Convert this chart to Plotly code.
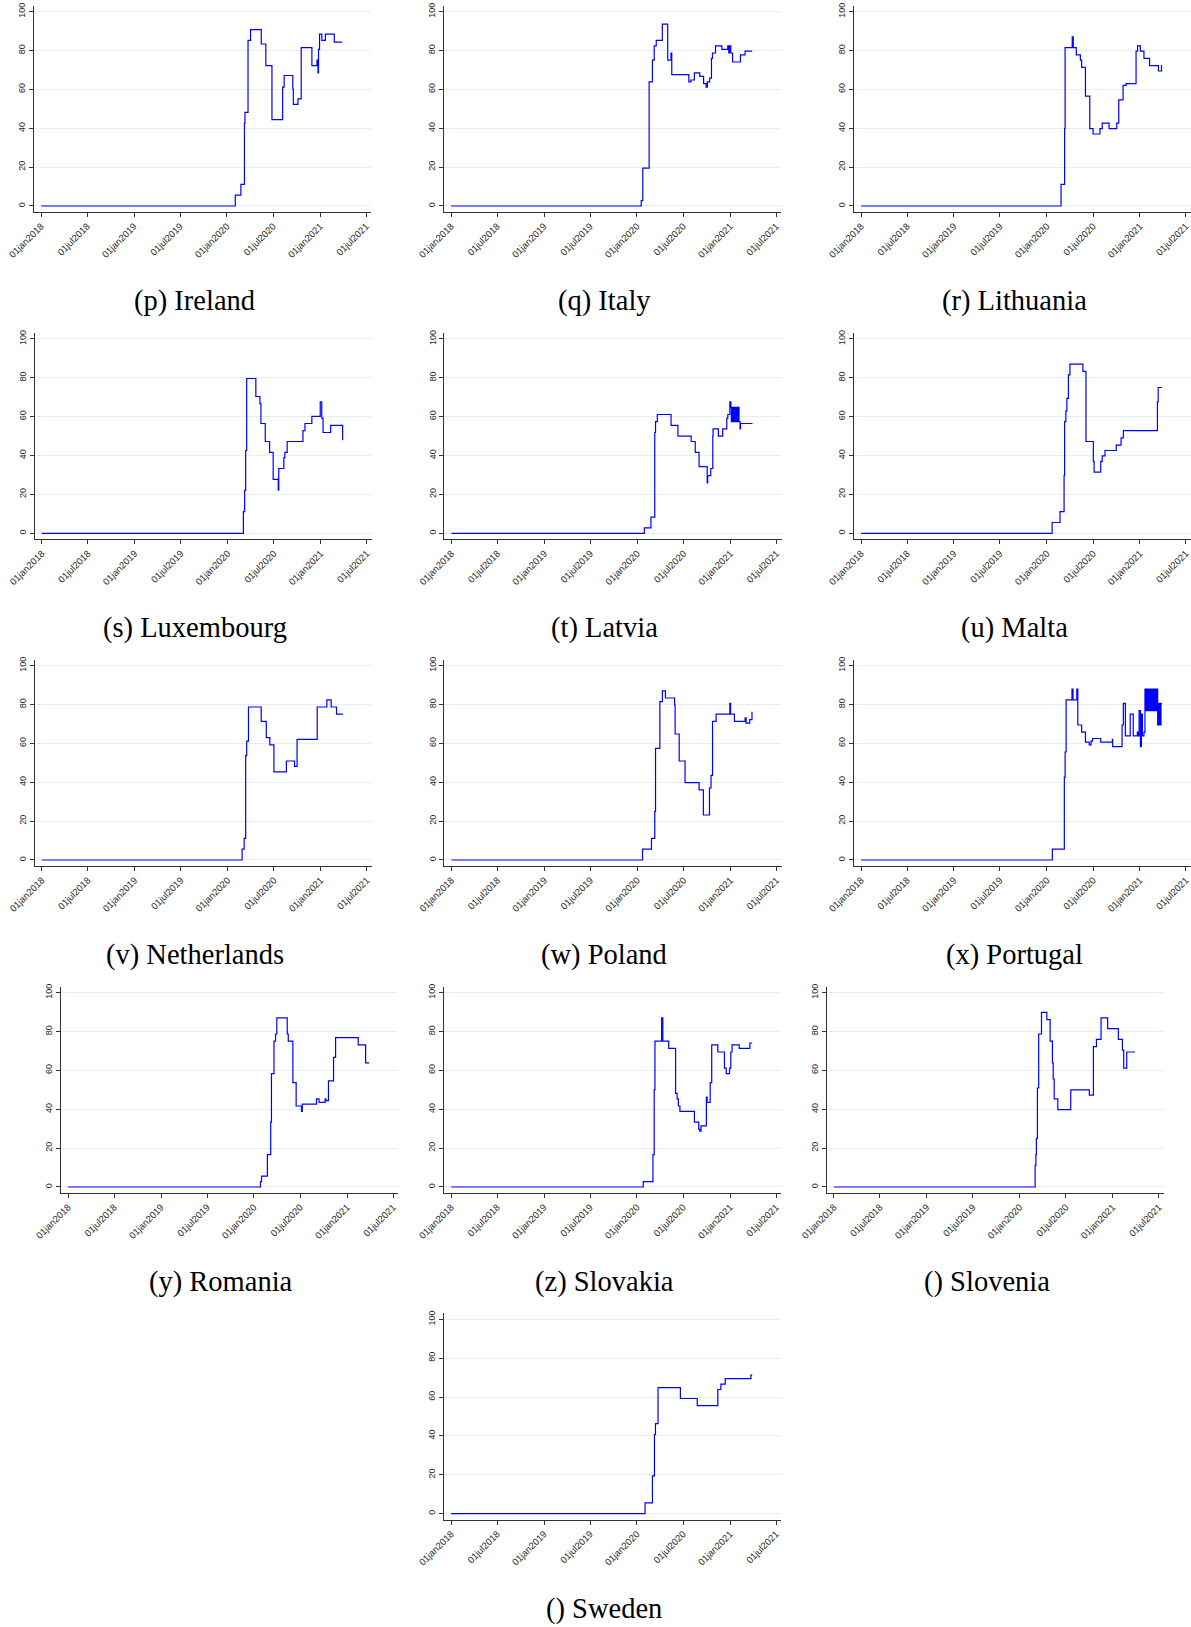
import plotly.graph_objects as go

W, H = 1191, 1627

# Shared axes
X_RANGE = ["2017-12-04", "2021-07-21"]
X_TICKS = ["2018-01-01", "2018-07-01", "2019-01-01", "2019-07-01",
           "2020-01-01", "2020-07-01", "2021-01-01", "2021-07-01"]
X_TICK_TEXT = ["01jan2018", "01jul2018", "01jan2019", "01jul2019",
               "01jan2020", "01jul2020", "01jan2021", "01jul2021"]
Y_TICKS = [0, 20, 40, 60, 80, 100]
Y_RANGE = [-3.1, 103]

# Stringency index step series: change dates and the value from that date on
ireland_dates = ["2018-01-01", "2020-02-03", "2020-02-25", "2020-03-10", "2020-03-12", "2020-03-24",
                 "2020-04-03", "2020-05-15", "2020-06-02", "2020-06-26", "2020-08-07", "2020-08-13",
                 "2020-09-16", "2020-09-18", "2020-10-06", "2020-10-19", "2020-11-30", "2020-12-20",
                 "2020-12-24", "2020-12-26", "2020-12-30", "2021-01-08", "2021-01-22", "2021-02-26",
                 "2021-03-29"]
ireland_values = [0, 5.56, 11.11, 42.59, 48.15, 85.19, 90.74, 83.33, 72.22, 44.44, 61.11, 67.13,
                  60.19, 52.31, 55.09, 81.48, 72.22, 75.0, 68.52, 80.56, 88.43, 85.19, 88.43, 84.26,
                  84.26]

italy_dates = ["2018-01-01", "2020-01-18", "2020-01-24", "2020-02-18", "2020-03-02", "2020-03-09",
               "2020-03-17", "2020-04-10", "2020-05-01", "2020-05-14", "2020-05-17", "2020-07-23",
               "2020-07-31", "2020-08-14", "2020-09-04", "2020-09-19", "2020-09-29", "2020-10-04",
               "2020-10-13", "2020-10-20", "2020-10-24", "2020-11-05", "2020-11-30", "2020-12-23",
               "2020-12-27", "2020-12-30", "2021-01-04", "2021-01-11", "2021-02-11", "2021-03-01",
               "2021-03-29"]
italy_values = [0, 2.78, 19.44, 63.89, 75.0, 82.41, 85.19, 93.52, 75.0, 78.7, 67.59, 63.89,
                64.81, 68.52, 66.67, 62.96, 61.11, 63.89, 65.74, 75.93, 78.7, 82.41, 80.56, 82.41,
                78.7, 82.41, 78.7, 74.07, 77.78, 79.63, 79.63]

lithuania_dates = ["2018-01-01", "2020-02-26", "2020-03-11", "2020-03-13", "2020-04-10", "2020-04-14",
                   "2020-04-26", "2020-05-12", "2020-05-17", "2020-06-01", "2020-06-18", "2020-07-01",
                   "2020-07-28", "2020-08-06", "2020-09-02", "2020-10-02", "2020-10-10", "2020-10-27",
                   "2020-11-08", "2020-12-17", "2020-12-23", "2021-01-03", "2021-01-17", "2021-02-08",
                   "2021-03-15", "2021-03-27", "2021-03-29"]
lithuania_values = [0, 11.11, 39.81, 81.48, 87.04, 81.48, 77.78, 75.0, 71.3, 56.48, 39.81, 37.04,
                    39.81, 42.59, 39.81, 42.59, 54.63, 62.04, 62.96, 79.63, 82.41, 79.63, 75.93, 72.22,
                    69.44, 72.22, 72.22]

luxembourg_dates = ["2018-01-01", "2020-03-03", "2020-03-08", "2020-03-12", "2020-03-16", "2020-04-21",
                    "2020-05-07", "2020-05-11", "2020-05-28", "2020-06-14", "2020-06-28", "2020-07-18",
                    "2020-07-20", "2020-08-09", "2020-08-13", "2020-08-22", "2020-10-23", "2020-10-31",
                    "2020-11-27", "2020-12-30", "2021-01-05", "2021-01-10", "2021-02-09", "2021-03-28",
                    "2021-03-29"]
luxembourg_values = [0, 11.11, 22.22, 42.59, 79.63, 70.37, 66.67, 56.48, 47.22, 41.67, 27.78, 22.22,
                     33.33, 38.89, 41.67, 47.22, 52.78, 56.48, 60.19, 67.59, 59.26, 51.85, 55.56, 48.15,
                     48.15]

latvia_dates = ["2018-01-01", "2020-01-29", "2020-02-24", "2020-03-10", "2020-03-13", "2020-03-20",
                "2020-05-13", "2020-06-09", "2020-07-31", "2020-08-16", "2020-08-31", "2020-10-02",
                "2020-10-04", "2020-10-16", "2020-10-24", "2020-10-25", "2020-11-15", "2020-12-02",
                "2020-12-18", "2020-12-22", "2020-12-30", "2021-01-03",
                "2021-01-05", "2021-01-08", "2021-01-11", "2021-01-14", "2021-01-17", "2021-01-20",
                "2021-01-23", "2021-01-26", "2021-01-29", "2021-02-01", "2021-02-04",
                "2021-02-08", "2021-02-10", "2021-03-29"]
latvia_values = [0, 2.78, 8.33, 51.85, 57.41, 61.11, 55.56, 50.0, 47.22, 41.67, 34.26, 25.93,
                 29.63, 33.33, 50.0, 53.7, 50.0, 53.7, 59.26, 61.11, 67.59, 64.81,
                 57.41, 64.81, 57.41, 64.81, 57.41, 64.81, 57.41, 64.81, 57.41, 64.81, 57.41,
                 53.7, 56.48, 56.48]

malta_dates = ["2018-01-01", "2020-01-22", "2020-02-22", "2020-03-09", "2020-03-11", "2020-03-16",
               "2020-03-20", "2020-03-26", "2020-04-01", "2020-05-22", "2020-06-03", "2020-07-02",
               "2020-07-05", "2020-07-31", "2020-08-06", "2020-08-17", "2020-09-30", "2020-10-19",
               "2020-10-28", "2021-03-11", "2021-03-14", "2021-03-29"]
malta_values = [0, 5.56, 11.11, 29.63, 57.41, 62.96, 69.44, 81.48, 87.04, 83.33, 47.22, 37.04,
                31.48, 37.04, 39.81, 42.59, 45.37, 49.07, 52.78, 67.59, 75.0, 75.0]

netherlands_dates = ["2018-01-01", "2020-02-27", "2020-03-06", "2020-03-12", "2020-03-16", "2020-03-23",
                     "2020-05-12", "2020-06-01", "2020-06-15", "2020-07-01", "2020-08-19", "2020-09-20",
                     "2020-09-30", "2020-12-18", "2021-01-25", "2021-02-11", "2021-03-04", "2021-03-29"]
netherlands_values = [0, 5.56, 11.11, 53.7, 61.11, 78.7, 71.3, 62.96, 59.26, 45.37, 50.93, 48.15,
                      62.04, 78.7, 82.41, 78.7, 75.0, 75.0]

poland_dates = ["2018-01-01", "2020-01-22", "2020-02-26", "2020-03-10", "2020-03-13", "2020-03-30",
                "2020-04-09", "2020-04-21", "2020-05-27", "2020-05-29", "2020-06-14", "2020-07-07",
                "2020-08-31", "2020-09-17", "2020-10-11", "2020-10-17", "2020-10-23", "2020-11-06",
                "2020-12-30", "2021-01-02", "2021-01-17", "2021-02-28", "2021-03-04", "2021-03-18",
                "2021-03-27", "2021-03-29"]
poland_values = [0, 5.56, 11.11, 25.0, 57.41, 81.48, 87.04, 83.33, 79.63, 64.81, 50.93, 39.81,
                 36.11, 23.15, 37.04, 43.52, 71.3, 75.0, 80.56, 75.0, 71.3, 73.15, 70.37, 72.22,
                 75.93, 75.93]

portugal_dates = ["2018-01-01", "2020-01-23", "2020-03-10", "2020-03-13", "2020-03-17", "2020-04-09",
                  "2020-04-13", "2020-04-28", "2020-05-02", "2020-05-17", "2020-06-01", "2020-06-16",
                  "2020-06-23", "2020-06-29", "2020-07-31", "2020-09-15", "2020-09-16", "2020-10-23",
                  "2020-10-28", "2020-11-05", "2020-11-24", "2020-12-06", "2020-12-22", "2020-12-25",
                  "2020-12-29", "2021-01-03", "2021-01-07", "2021-01-11", "2021-01-17",
                  "2021-01-21", "2021-01-24", "2021-01-27", "2021-01-30", "2021-02-02", "2021-02-05",
                  "2021-02-08", "2021-02-11", "2021-02-14", "2021-02-17", "2021-02-20", "2021-02-23",
                  "2021-02-26", "2021-03-01", "2021-03-04", "2021-03-07", "2021-03-10",
                  "2021-03-12", "2021-03-15", "2021-03-17", "2021-03-20", "2021-03-22", "2021-03-25",
                  "2021-03-29"]
portugal_values = [0, 5.56, 42.59, 55.56, 82.41, 87.96, 82.41, 87.96, 69.44, 65.74, 60.65, 59.26,
                   61.11, 62.5, 60.65, 62.04, 58.33, 69.44, 80.56, 63.89, 75.0, 63.89, 65.74, 63.89,
                   76.85, 58.33, 75.0, 63.89, 65.74,
                   87.96, 76.85, 87.96, 76.85, 87.96, 76.85, 87.96, 76.85, 87.96, 76.85, 87.96,
                   76.85, 87.96, 76.85, 87.96, 76.85, 87.96,
                   69.44, 80.56, 69.44, 80.56, 69.44, 80.56, 80.56]

romania_dates = ["2018-01-01", "2020-01-27", "2020-01-31", "2020-02-23", "2020-03-07", "2020-03-10",
                 "2020-03-20", "2020-03-26", "2020-03-31", "2020-05-11", "2020-05-15", "2020-06-02",
                 "2020-06-15", "2020-07-06", "2020-07-09", "2020-09-03", "2020-09-13", "2020-10-07",
                 "2020-10-10", "2020-10-20", "2020-11-09", "2020-11-17", "2021-02-14", "2021-03-15",
                 "2021-03-29"]
romania_values = [0, 2.78, 5.56, 16.67, 33.33, 58.33, 75.0, 78.7, 87.04, 78.7, 75.0, 53.7,
                  41.67, 38.89, 42.59, 45.37, 43.52, 45.37, 44.44, 54.63, 66.67, 76.85, 73.15, 63.89,
                  63.89]

slovakia_dates = ["2018-01-01", "2020-01-26", "2020-03-04", "2020-03-09", "2020-03-12", "2020-04-07",
                  "2020-04-12", "2020-05-05", "2020-06-01", "2020-06-07", "2020-06-12", "2020-06-18",
                  "2020-08-14", "2020-08-31", "2020-09-04", "2020-09-09", "2020-09-30", "2020-10-03",
                  "2020-10-15", "2020-10-21", "2020-11-14", "2020-12-10", "2020-12-17", "2020-12-30",
                  "2021-01-04", "2021-01-09", "2021-02-06", "2021-03-20", "2021-03-29"]
slovakia_values = [0, 2.78, 16.67, 50.0, 75.0, 87.04, 75.0, 71.3, 48.15, 45.37, 41.67, 38.89,
                   33.33, 29.63, 28.7, 31.48, 46.3, 43.52, 53.7, 73.15, 69.44, 61.11, 58.33, 61.11,
                   69.44, 73.15, 71.3, 74.07, 74.07]

slovenia_dates = ["2018-01-01", "2020-03-02", "2020-03-05", "2020-03-07", "2020-03-11", "2020-03-16",
                  "2020-03-27", "2020-04-17", "2020-04-30", "2020-05-09", "2020-05-12", "2020-05-16",
                  "2020-05-30", "2020-07-20", "2020-10-01", "2020-10-17", "2020-10-29", "2020-11-16",
                  "2020-12-12", "2021-01-23", "2021-02-08", "2021-02-13", "2021-02-25", "2021-03-29"]
slovenia_values = [0, 11.11, 16.67, 25.0, 50.93, 78.7, 89.81, 86.11, 75.0, 63.89, 55.56, 45.37,
                   39.81, 50.0, 47.22, 72.22, 75.93, 87.04, 81.48, 75.93, 70.37, 61.11, 69.44, 69.44]

sweden_dates = ["2018-01-01", "2020-02-02", "2020-03-02", "2020-03-10", "2020-03-14", "2020-03-24",
                "2020-06-20", "2020-08-25", "2020-11-14", "2020-11-26", "2020-12-13", "2021-03-24",
                "2021-03-29"]
sweden_values = [0, 5.56, 19.44, 40.74, 46.3, 64.81, 59.26, 55.56, 63.89, 66.67, 69.44, 71.3,
                 71.3]

# Panel title, series, and placement (left edge of plot area, pixel row of y = 0)
panels = [
    ("(p) Ireland", ireland_dates, ireland_values, 34.0, 206.0),
    ("(q) Italy", italy_dates, italy_values, 444.0, 206.0),
    ("(r) Lithuania", lithuania_dates, lithuania_values, 854.0, 206.0),
    ("(s) Luxembourg", luxembourg_dates, luxembourg_values, 34.7, 533.3),
    ("(t) Latvia", latvia_dates, latvia_values, 444.3, 533.3),
    ("(u) Malta", malta_dates, malta_values, 854.0, 533.3),
    ("(v) Netherlands", netherlands_dates, netherlands_values, 34.7, 860.0),
    ("(w) Poland", poland_dates, poland_values, 444.3, 860.0),
    ("(x) Portugal", portugal_dates, portugal_values, 854.0, 860.0),
    ("(y) Romania", romania_dates, romania_values, 61.0, 1187.0),
    ("(z) Slovakia", slovakia_dates, slovakia_values, 444.0, 1187.0),
    ("() Slovenia", slovenia_dates, slovenia_values, 826.7, 1187.0),
    ("() Sweden", sweden_dates, sweden_values, 444.0, 1513.7),
]

PLOT_W = 337.2      # px width of each plot area
PX_PER_UNIT = 1.944 # px per index point
TITLE_DX = 160.0    # title centre offset from plot left edge
TITLE_DY = 95.0     # title centre offset below y = 0

AXIS_COLOR = "#333333"
TICK_TEXT_COLOR = "#262626"
GRID_COLOR = "#e6eef0"
LINE_COLOR = "#0000ff"

fig = go.Figure()
layout = dict(
    width=W, height=H, autosize=False,
    margin=dict(l=0, r=0, t=0, b=0, pad=0),
    paper_bgcolor="white", plot_bgcolor="white",
    showlegend=False,
    annotations=[],
)

for i, (title, dates, values, left_px, zero_px) in enumerate(panels, start=1):
    xname = "x" if i == 1 else f"x{i}"
    yname = "y" if i == 1 else f"y{i}"
    x_dom = [left_px / W, min(1.0, (left_px + PLOT_W) / W)]
    top_px = zero_px - Y_RANGE[1] * PX_PER_UNIT
    bot_px = zero_px - Y_RANGE[0] * PX_PER_UNIT
    y_dom = [1 - bot_px / H, 1 - top_px / H]

    fig.add_trace(go.Scatter(
        x=dates, y=values, mode="lines",
        line=dict(color=LINE_COLOR, width=1.2, shape="hv"),
        xaxis=xname, yaxis=yname, hoverinfo="skip", showlegend=False,
    ))

    layout["xaxis" if i == 1 else f"xaxis{i}"] = dict(
        type="date", range=X_RANGE, domain=x_dom, anchor=yname, automargin=False,
        tickmode="array", tickvals=X_TICKS, ticktext=X_TICK_TEXT,
        tickangle=-45, tickfont=dict(family="Liberation Sans", size=9.5, color=TICK_TEXT_COLOR),
        ticks="outside", ticklen=4, tickwidth=1, tickcolor=AXIS_COLOR,
        showline=True, linecolor=AXIS_COLOR, linewidth=1,
        showgrid=False, zeroline=False, fixedrange=True,
    )
    layout["yaxis" if i == 1 else f"yaxis{i}"] = dict(
        range=Y_RANGE, domain=y_dom, anchor=xname, automargin=False,
        tickmode="array", tickvals=Y_TICKS,
        tickangle=-90, tickfont=dict(family="Liberation Sans", size=9, color=TICK_TEXT_COLOR),
        ticks="outside", ticklen=4, tickwidth=1, tickcolor=AXIS_COLOR,
        showline=True, linecolor=AXIS_COLOR, linewidth=1,
        showgrid=True, gridcolor=GRID_COLOR, gridwidth=1,
        zeroline=False, fixedrange=True,
    )
    layout["annotations"].append(dict(
        text=title, xref="paper", yref="paper",
        x=(left_px + TITLE_DX) / W, y=1 - (zero_px + TITLE_DY) / H,
        xanchor="center", yanchor="middle", showarrow=False,
        font=dict(family="Liberation Serif", size=28.5, color="black"),
    ))

fig.update_layout(**layout)
fig.write_html("out.html")
